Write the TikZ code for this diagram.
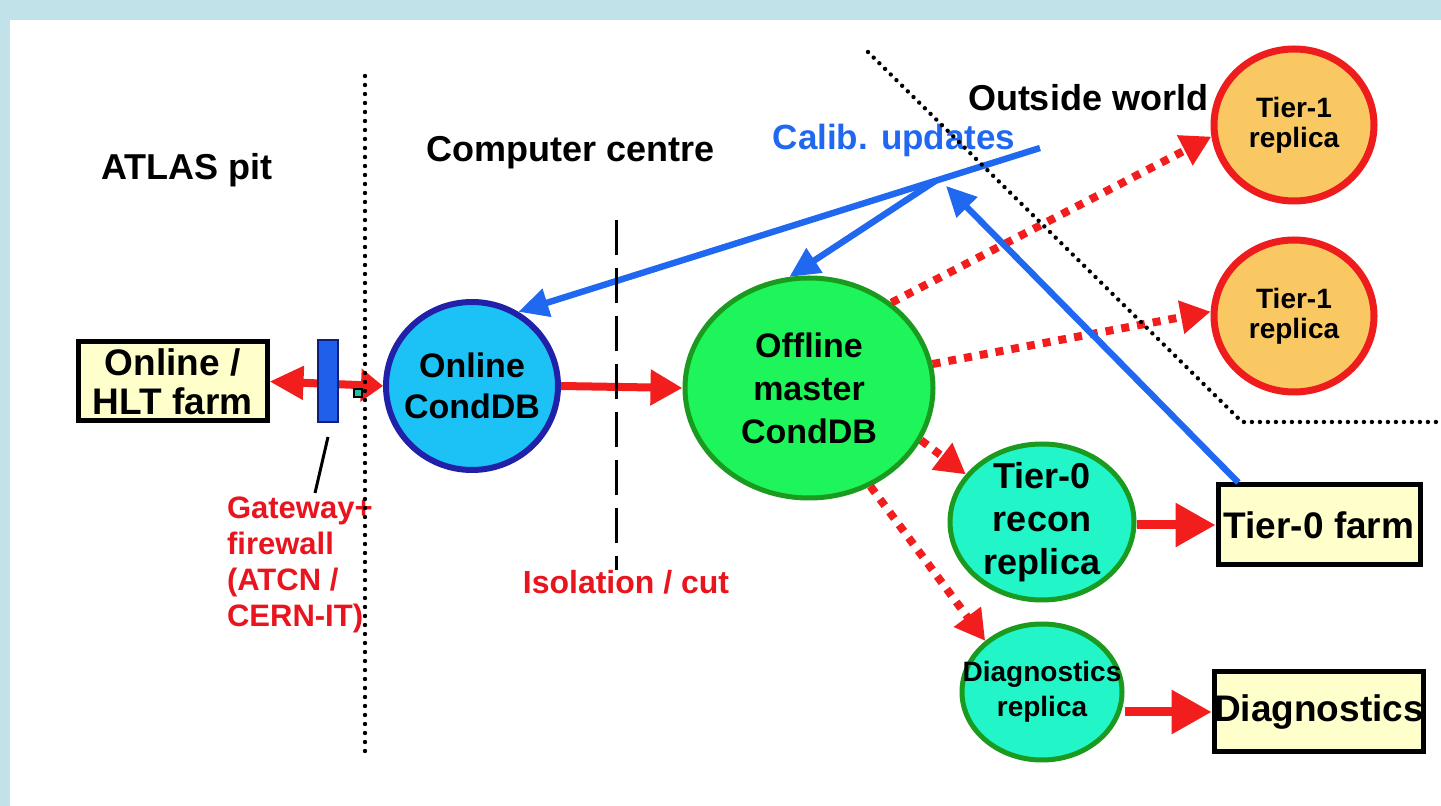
\documentclass[tikz,border=0pt]{standalone}
\usepackage{fontspec}
\setmainfont{Liberation Sans}
\usetikzlibrary{arrows.meta,shapes.geometric,calc}

\definecolor{framebg}{HTML}{C1E2E9}
\definecolor{boxfill}{HTML}{FFFFCC}
\definecolor{barblue}{HTML}{1F5FEA}
\definecolor{bardark}{HTML}{10207A}
\definecolor{onlfill}{HTML}{1CC2F6}
\definecolor{onlline}{HTML}{2020A8}
\definecolor{offfill}{HTML}{1EF55A}
\definecolor{grnline}{HTML}{1A9A1E}
\definecolor{repfill}{HTML}{22F5C8}
\definecolor{t1fill}{HTML}{F9C862}
\definecolor{t1line}{HTML}{EE1C1C}
\definecolor{arrred}{HTML}{F21E1E}
\definecolor{lblred}{HTML}{E8141E}
\definecolor{updblue}{HTML}{2068F0}
\definecolor{sqfill}{HTML}{20C0A0}

\newcommand\setfs[2]{\fontsize{#1}{#2}\selectfont\bfseries}

\begin{document}
\begin{tikzpicture}[x=0.5pt,y=-0.5pt,
  farmbox/.style={draw=black, line width=2.5pt, fill=boxfill, align=center,
    inner sep=0pt, font=\setfs{18.5}{19.5}},
  db/.style={ellipse, inner sep=0pt, line width=3pt},
  flow/.style={draw=arrred, line width=4pt, -{Triangle[length=16pt,width=17pt]}},
  bigflow/.style={draw=arrred, line width=4.5pt, -{Triangle[length=20pt,width=21pt]}},
  repl/.style={draw=arrred, line width=4pt, dash pattern=on 4pt off 4pt,
    -{Triangle[length=15pt,width=16pt]}},
  upd/.style={draw=updblue, line width=3.2pt},
  updarr/.style={upd, -{Triangle[length=15pt,width=14pt]}},
  border/.style={black, line width=2.2pt, line cap=round, dash pattern=on 0pt off 4.5pt},
  heading/.style={font=\setfs{18}{21}}
]
% frame and drawing area
\useasboundingbox (0,0) rectangle (1441,806);
\fill[framebg] (0,0) rectangle (1441,806);
\fill[white] (10,20) rectangle (1441,806);

% region headings
\node[heading] (pit) at (187,170) {ATLAS pit};
\node[heading] (cc) at (571,153) {Computer centre};
\node[heading] (ow) at (1088,98) {Outside world};

% farms
\node[farmbox, minimum width=94.5pt, minimum height=39.5pt] (hlt) at (172.5,381.5) {Online /\\HLT farm};
\node[farmbox, minimum width=101pt, minimum height=40pt] (t0f) at (1319,525) {Tier-0 farm};
\node[farmbox, minimum width=101pt, minimum height=40pt] (dg) at (1319,712) {Diagnostics};

% databases: the outline sets the size, the text sits on top as a label
\node[db, draw=onlline, fill=onlfill, minimum width=86pt, minimum height=84pt,
  label={[align=center, font=\setfs{17}{20.5}]center:{Online\\CondDB}}] (onl) at (472,386) {};
\node[db, draw=grnline, line width=2.5pt, fill=offfill, minimum width=124pt, minimum height=110pt,
  label={[align=center, font=\setfs{17}{21.5}]center:{Offline\\master\\CondDB}}] (off) at (809,388) {};
\node[db, draw=t1line, line width=3.5pt, fill=t1fill, minimum width=80pt, minimum height=76pt,
  label={[align=center, font=\setfs{14}{15}]center:{Tier-1\\replica}}] (t1a) at (1294,125) {};
\node[db, draw=t1line, line width=3.5pt, fill=t1fill, minimum width=80pt, minimum height=76pt,
  label={[align=center, font=\setfs{14}{15}]center:{Tier-1\\replica}}] (t1b) at (1294,316) {};
\node[db, draw=grnline, line width=2.5pt, fill=repfill, minimum width=92pt, minimum height=78pt,
  label={[align=center, font=\setfs{18}{21.5}]center:{Tier-0\\recon\\replica}}] (t0r) at (1042,522) {};
\node[db, draw=grnline, line width=2.5pt, fill=repfill, minimum width=80pt, minimum height=68pt,
  label={[align=center, font=\setfs{14}{17.5}]center:{Diagnostics\\replica}}] (dgr) at (1042,692) {};

% link through the gateway
\draw[draw=arrred, line width=4pt, {Triangle[length=17pt,width=16pt]}-{Triangle[length=11pt,width=16pt]}]
  (hlt.east) -- (onl.west);
\node[draw=bardark, line width=1pt, fill=barblue, minimum width=10pt, minimum height=41pt,
  inner sep=0pt] (gw) at (328,381) {};
\node[draw=black, line width=0.8pt, fill=sqfill, minimum size=4pt, inner sep=0pt] (sq) at (358,393) {};

% gateway label and pointer
\coordinate (gwtop) at (328,437);
\coordinate (gwbot) at (315,493);
\draw[black, line width=1.5pt] (gwtop) -- (gwbot);
\node[anchor=west, align=left, text=lblred, font=\setfs{15.5}{18}] (gwl) at (220,565)
  {Gateway+\\firewall\\(ATCN /\\CERN-IT)};

% data flow
\draw[flow] (onl.east) -- (off.west);
\draw[bigflow] (t0r.east |- t0f.west) -- (t0f.west);
\draw[bigflow] (dgr.east |- dg.west) -- (dg.west);

% replication
\draw[repl] (off.46) -- (t1a.188);
\draw[repl] (off.11) -- (t1b.177);
\draw[repl] (off.-25) -- (t0r.148);
\draw[repl] (off.-58) -- (dgr.138);

% calibration updates
\coordinate (cu) at (1040,148);
\coordinate (hub) at ($(cu)!0.2!(onl.58)$);
\coordinate (cin) at (946,186);
\draw[updarr] (cu) -- (onl.58);
\draw[updarr] (hub) -- (off.100);
\draw[updarr] ($(t0f.north west)!0.11!(t0f.north east)$) -- (cin);
\node[text=updblue, font=\setfs{17.5}{20}] (cal) at (894,140) {Calib. updates};

\node[text=lblred, font=\setfs{16}{19}] (iso) at (626,582) {Isolation / cut};

% region borders
\coordinate (v1a) at (365,76);
\coordinate (v1b) at (365,754);
\draw[border] (v1a) -- (v1b);
\coordinate (v2a) at (616,220);
\coordinate (v2b) at (616,570);
\draw[black, line width=1.5pt, dash pattern=on 17.5pt off 6.5pt] (v2a) -- (v2b);
\coordinate (d1) at (868,52);
\coordinate (d2) at (1242,422);
\coordinate (d3) at (1441,422);
\draw[border, dash pattern=on 0pt off 4pt] (d1) -- (d2) -- (d3);
\end{tikzpicture}
\end{document}
